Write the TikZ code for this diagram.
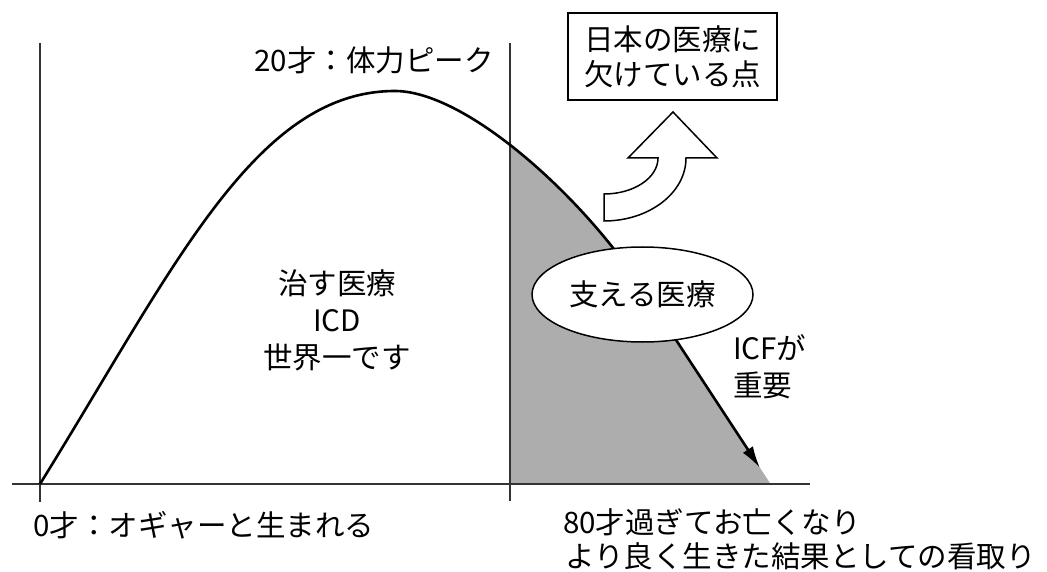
\documentclass[tikz,border=0pt]{standalone}
\usepackage{fontspec}
\setmainfont{Noto Sans CJK JP}
\usetikzlibrary{shapes.geometric,arrows.meta}
\begin{document}
\begin{tikzpicture}[x=1pt,y=-1pt,
  lbl/.style={inner sep=0pt,font=\fontsize{29.5}{37}\selectfont},
  axis/.style={line width=1.4pt,draw=black!80},
  thin/.style={line width=1.5pt,draw=black}]
\useasboundingbox (0,0) rectangle (1047,572);
% gray region
\begin{scope}
  \clip (510,0) rectangle (900,484);
  \fill[black!32] (40,484) .. controls (174,268) and (255,91) .. (395,91)
     .. controls (465,91) and (580,194) .. (640,285) -- (770.6,484) -- cycle;
\end{scope}
% coordinates
\coordinate (o) at (40,484);
\coordinate (peak) at (395,91);
\coordinate (mid) at (640,285);
\coordinate (tip) at (760,468);
\coordinate (lt) at (40,43);
\coordinate (lb) at (40,502);
\coordinate (rt) at (510,43);
\coordinate (rb) at (510,501);
\coordinate (al) at (12,484);
\coordinate (ar) at (810,484);
% axes
\draw[axis] (lt) -- (lb);
\draw[axis] (rt) -- (rb);
\draw[axis] (al) -- (ar);
% curve
\draw[line width=2.6pt,-{Latex[length=22pt,width=12pt]}] (o) .. controls (174,268) and (255,91) .. (peak)
   .. controls (465,91) and (580,194) .. (mid) -- (tip);
% ellipse
\node[ellipse,draw,fill=white,line width=1.5pt,minimum width=221pt,minimum height=95pt,lbl] (sasaeru) at (642.5,294.5) {支える医療};
% box
\node[draw,line width=1.5pt,minimum width=209pt,minimum height=87pt,align=center,lbl,font=\fontsize{29.5}{35}\selectfont] (kakete) at (672.5,56.5) {日本の医療に\\欠けている点};
% big curved arrow
\draw[thin,fill=white] (673,112) -- (717,158) -- (686,158)
  arc[start angle=0,end angle=90,x radius=82,y radius=63] -- (604,194)
  arc[start angle=90,end angle=0,x radius=54,y radius=36] -- (628,158) -- cycle;
% labels
\node[lbl] (peaklbl) at (374,60) {20才：体力ピーク};
\node[lbl,align=center] (naosu) at (337,320) {治す医療\\ICD\\世界一です};
\node[lbl,align=left,anchor=west] (icf) at (733,367) {ICFが\\重要};
\node[lbl,anchor=west] (birth) at (33,525) {0才：オギャーと生まれる};
\node[lbl,anchor=west] (death1) at (563,522) {80才過ぎてお亡くなり};
\node[lbl,anchor=west] (death2) at (565,556) {より良く生きた結果としての看取り};
\end{tikzpicture}
\end{document}
